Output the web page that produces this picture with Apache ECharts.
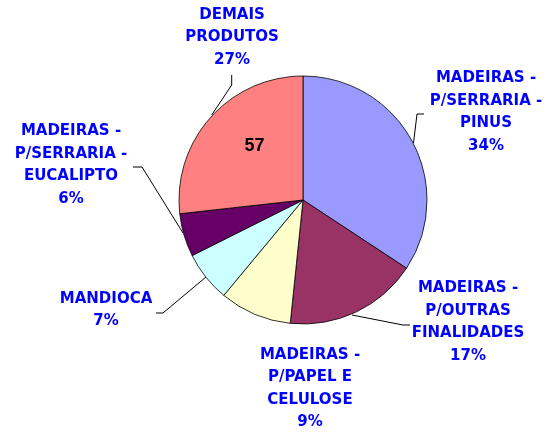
<!DOCTYPE html>
<html>
<head>
<meta charset="utf-8">
<script src="https://cdn.jsdelivr.net/npm/echarts@6/dist/echarts.min.js"></script>
<style>
  html, body { margin: 0; padding: 0; background: #fff; }
  #chart { width: 549px; height: 434px; }
</style>
</head>
<body>
<div id="chart"></div>
<script>
// produtos (nomes já quebrados em linhas como no gráfico original)
var categories = [
  'MADEIRAS -\nP/SERRARIA -\nPINUS',
  'MADEIRAS -\nP/OUTRAS\nFINALIDADES',
  'MADEIRAS -\nP/PAPEL E\nCELULOSE',
  'MANDIOCA',
  'MADEIRAS -\nP/SERRARIA -\nEUCALIPTO',
  'DEMAIS\nPRODUTOS'
]
var values = [73, 37, 20, 14, 12, 57]
var colors = ['#9999FF', '#993366', '#FFFFCC', '#CCFFFF', '#660066', '#FF8080']

// onde fica cada rótulo (centro x, topo y) e a linha guia
var labelPos = [
  [486, 67], [468, 277], [310, 343.5], [106, 287.5], [71, 120], [232, 3.5]
]
var guideLines = [
  [[413.5, 143], [417, 114], [424, 114]],
  [[352, 315], [403, 325], [410, 325]],
  null,
  [[206, 277], [163, 313], [156, 313]],
  [[183, 233], [142, 167], [133, 167]],
  [[211.7, 115], [231.7, 85], [231.7, 75]]
]

var chart = echarts.init(document.getElementById('chart'))

var pieData = categories.map(function (name, i) {
  return {
    name: name,
    value: values[i],
    itemStyle: { color: colors[i] },
    labelLine: { show: guideLines[i] != null }
  }
})

// segunda camada só para o valor escrito dentro da fatia "demais produtos"
var innerData = categories.map(function (name, i) {
  return {
    name: name,
    value: values[i],
    label: { show: i === 5 }
  }
})

chart.setOption({
  animation: false,
  series: [
    {
      type: 'pie',
      center: [303, 200],
      radius: 124,
      startAngle: 90,
      clockwise: true,
      percentPrecision: 0,
      avoidLabelOverlap: false,
      itemStyle: { borderColor: '#000', borderWidth: 0.8 },
      label: {
        show: true,
        formatter: '{b}\n{d}%',
        color: '#0000FF',
        fontFamily: 'DejaVu Sans',
        fontWeight: 'bold',
        fontSize: 15,
        lineHeight: 22.5,
        align: 'center'
      },
      labelLine: {
        show: true,
        lineStyle: { color: '#000', width: 1 }
      },
      labelLayout: function (params) {
        var i = params.dataIndex
        var out = {
          x: labelPos[i][0],
          y: labelPos[i][1],
          align: 'center',
          verticalAlign: 'top'
        }
        if (guideLines[i]) out.labelLinePoints = guideLines[i]
        return out
      },
      emphasis: { disabled: true },
      data: pieData
    },
    {
      type: 'pie',
      center: [303, 200],
      radius: 124,
      startAngle: 90,
      silent: true,
      itemStyle: { color: 'rgba(0,0,0,0)', borderWidth: 0 },
      label: {
        position: 'inside',
        formatter: '{c}',
        color: '#000',
        fontFamily: 'Liberation Sans',
        fontWeight: 'bold',
        fontSize: 18
      },
      labelLayout: { dy: -11 },
      labelLine: { show: false },
      data: innerData
    }
  ]
})
</script>
</body>
</html>
